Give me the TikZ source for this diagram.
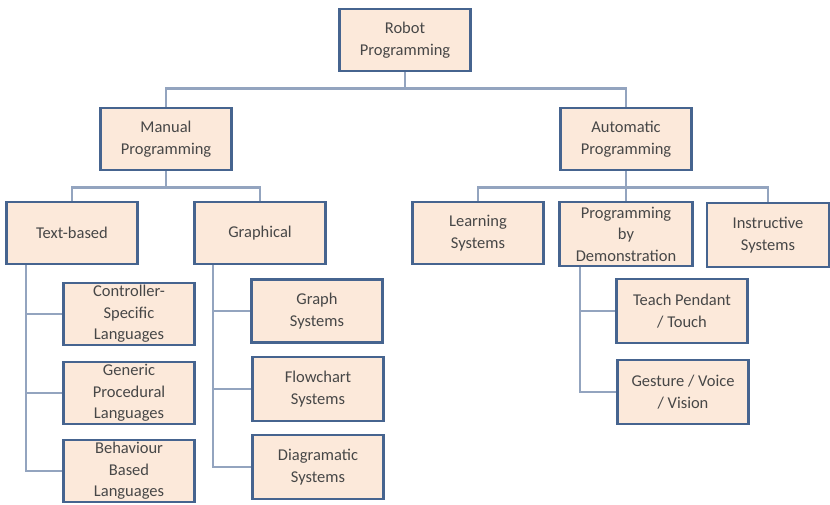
\documentclass[tikz,border=0pt]{standalone}
\usepackage{fontspec}
\setmainfont{Carlito}
\definecolor{caixa}{HTML}{FCE9DA}
\definecolor{borda}{HTML}{46648F}
\definecolor{linha}{HTML}{93A4BF}
\tikzset{
  caixa/.style={draw=borda,fill=caixa,line width=2.6pt,inner sep=0pt,align=center,
    text=black!72,font=\fontsize{16.5}{21.5}\selectfont,minimum width=131,minimum height=62},
  ligacao/.style={draw=linha,line width=2.4pt}
}
\begin{document}
\begin{tikzpicture}[x=1pt,y=-1pt]
\useasboundingbox (0,0) rectangle (830,504);
%caixas
  \node[caixa] (robot) at (405,40) {Robot\\Programming};
  \node[caixa] (manual) at (166,139) {Manual\\Programming};
  \node[caixa] (auto) at (626,139) {Automatic\\Programming};
  \node[caixa] (texto) at (72,233) {Text-based};
  \node[caixa] (grafico) at (260,233) {Graphical};
  \node[caixa] (aprend) at (478,233) {Learning\\Systems};
  \node[caixa,minimum width=133,minimum height=64] (demo) at (626,234) {Programming\\by\\Demonstration};
  \node[caixa,minimum width=122,minimum height=64] (instr) at (768,235) {Instructive\\Systems};
  \node[caixa] (ctrl) at (129,314) {Controller-\\Specific\\Languages};
  \node[caixa] (gener) at (129,393) {Generic\\Procedural\\Languages};
  \node[caixa] (behav) at (129,471) {Behaviour\\Based\\Languages};
  \node[caixa,minimum height=63] (grafo) at (317,311) {Graph\\Systems};
  \node[caixa,minimum height=64] (fluxo) at (318,389) {Flowchart\\Systems};
  \node[caixa,minimum height=64] (diag) at (318,467) {Diagramatic\\Systems};
  \node[caixa,minimum height=64] (teach) at (682,311) {Teach Pendant\\/ Touch};
  \node[caixa,minimum height=64] (gesto) at (683,392) {Gesture / Voice\\/ Vision};
%ligações
  \draw[ligacao] (robot.south) -- ++(0,16) -| (manual.north);
  \draw[ligacao] (robot.south) -- ++(0,16) -| (auto.north);
  \draw[ligacao] (manual.south) -- ++(0,16) -| (texto.north);
  \draw[ligacao] (manual.south) -- ++(0,16) -| (grafico.north);
  \draw[ligacao] (auto.south) -- ++(0,16) -| (aprend.north);
  \draw[ligacao] (auto.south) -- ++(0,16) -| (demo.north);
  \draw[ligacao] (auto.south) -- ++(0,16) -| (instr.north);
  \foreach \f in {ctrl,gener,behav}
    \draw[ligacao] ([xshift=21]texto.south west) |- (\f.west);
  \foreach \f in {grafo,fluxo,diag}
    \draw[ligacao] ([xshift=20]grafico.south west) |- (\f.west);
  \foreach \f in {teach,gesto}
    \draw[ligacao] ([xshift=22]demo.south west) |- (\f.west);
\end{tikzpicture}
\end{document}
